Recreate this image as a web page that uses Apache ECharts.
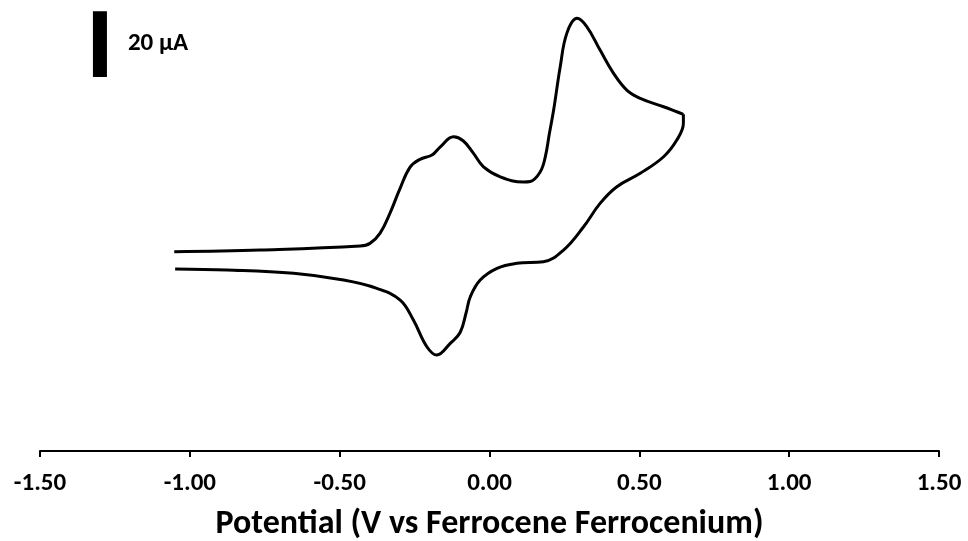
<!DOCTYPE html>
<html>
<head>
<meta charset="utf-8">
<script src="https://cdn.jsdelivr.net/npm/echarts@6/dist/echarts.min.js"></script>
<style>
  html, body { margin: 0; padding: 0; background: #fff; }
  #chart { width: 968px; height: 541px; }
</style>
</head>
<body>
<div id="chart"></div>
<script>
// Cyclic voltammogram: potential (V vs Fc/Fc+) against current (µA)
const potentialTicks = [-1.5, -1.0, -0.5, 0.0, 0.5, 1.0, 1.5];

// Forward (anodic) sweep: [potential V, current µA]
const forwardSweep = [
  [-1.052, 2.52], [-0.765, 3.04], [-0.432, 4.25], [-0.399, 5.07],
  [-0.365, 8.20], [-0.332, 14.28], [-0.298, 21.87], [-0.265, 28.25],
  [-0.232, 30.59], [-0.192, 31.90], [-0.165, 34.33], [-0.120, 37.45],
  [-0.088, 36.24], [-0.054, 32.50], [-0.020, 28.34], [0.036, 25.30],
  [0.113, 23.69], [0.136, 23.85], [0.169, 26.73], [0.186, 31.29],
  [0.200, 38.50], [0.214, 45.56],
  [0.236, 58.72], [0.258, 68.86], [0.292, 73.42], [0.325, 70.87],
  [0.369, 63.79], [0.414, 56.71], [0.458, 51.64], [0.503, 49.12],
  [0.581, 46.57], [0.647, 44.26]
];

// Reverse (cathodic) sweep, starting at the switching potential
const reverseSweep = [
  [0.647, 44.26], [0.647, 41.53], [0.625, 36.45], [0.581, 31.38],
  [0.503, 26.34], [0.425, 22.27], [0.369, 17.22], [0.314, 10.12],
  [0.247, 3.04], [0.180, -0.52], [0.091, -1.00], [0.025, -2.52],
  [-0.031, -6.08], [-0.064, -11.15], [-0.078, -16.00], [-0.098, -22.00],
  [-0.131, -25.30], [-0.176, -28.86], [-0.209, -26.34], [-0.254, -18.23],
  [-0.298, -12.15], [-0.376, -8.60], [-0.487, -6.08], [-0.654, -4.04],
  [-0.876, -3.04], [-1.049, -2.73]
];

// Current scale bar
const scaleBarX = -1.30;       // V
const scaleBarBottom = 55.6;   // µA
const scaleBarSpan = 20;       // µA

const currentRange = [-58, 79];

const FONT = 'Carlito, Lato, "Open Sans", sans-serif';

const chart = echarts.init(document.getElementById('chart'), null, { renderer: 'canvas' });

chart.setOption({
  backgroundColor: '#ffffff',
  animation: false,
  grid: {
    left: 40, right: 29, top: 0, bottom: 90,
    containLabel: false,
    outerBoundsMode: 'none'
  },
  xAxis: {
    type: 'value',
    min: potentialTicks[0],
    max: potentialTicks[potentialTicks.length - 1],
    interval: 0.5,
    name: 'Potential (V vs Ferrocene Ferrocenium)',
    nameLocation: 'middle',
    nameGap: 56,
    nameTextStyle: { color: '#000', fontFamily: FONT, fontWeight: 'bold', fontSize: 34 },
    axisLine: { onZero: false, lineStyle: { color: '#000', width: 2 } },
    axisTick: { show: true, length: 6, lineStyle: { color: '#000', width: 2 } },
    axisLabel: {
      color: '#000', fontFamily: FONT, fontWeight: 'bold', fontSize: 25, margin: 20,
      formatter: v => v.toFixed(2)
    },
    splitLine: { show: false }
  },
  yAxis: {
    type: 'value',
    min: currentRange[0],
    max: currentRange[1],
    show: false,
    splitLine: { show: false }
  },
  series: [
    {
      name: 'forward',
      type: 'line',
      data: forwardSweep,
      smooth: 0.4,
      showSymbol: false,
      lineStyle: { color: '#000', width: 3 }
    },
    {
      name: 'reverse',
      type: 'line',
      data: reverseSweep,
      smooth: 0.4,
      showSymbol: false,
      lineStyle: { color: '#000', width: 3 }
    },
    {
      name: 'scale',
      type: 'line',
      data: [
        [scaleBarX, scaleBarBottom],
        {
          value: [scaleBarX, scaleBarBottom + scaleBarSpan / 2],
          label: {
            show: true,
            position: 'right',
            distance: 28,
            formatter: () => scaleBarSpan + ' µA',
            color: '#000', fontFamily: FONT, fontWeight: 'bold', fontSize: 25
          }
        },
        [scaleBarX, scaleBarBottom + scaleBarSpan]
      ],
      showSymbol: true,
      symbolSize: 0,
      lineStyle: { color: '#000', width: 14, cap: 'butt' },
      label: { show: false }
    }
  ]
});
</script>
</body>
</html>
